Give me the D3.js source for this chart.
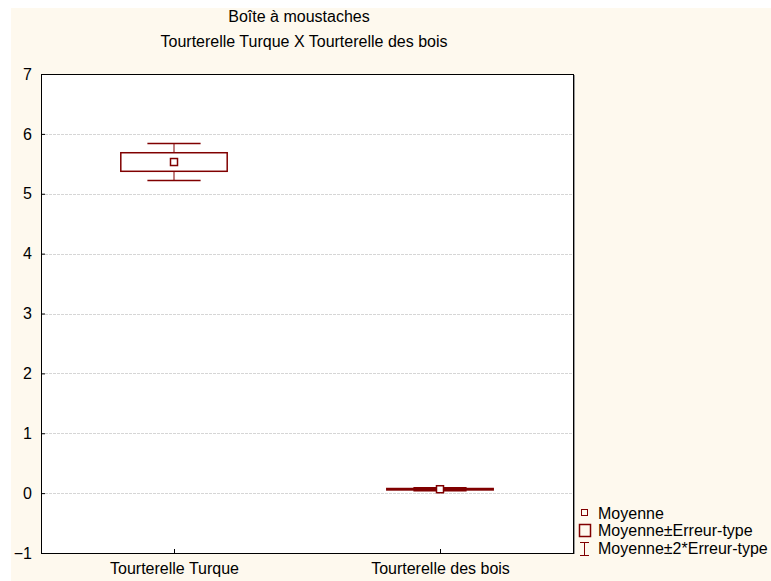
<!DOCTYPE html>
<html>
<head>
<meta charset="utf-8">
<script src="https://cdn.jsdelivr.net/npm/d3@7"></script>
<style>
  body { margin: 0; background: #fff; }
  text { font-family: "Liberation Sans", Arial, sans-serif; fill: #000; }
</style>
</head>
<body>
<div id="chart"></div>
<script>
// data
const categories = ["Tourterelle Turque", "Tourterelle des bois"];
const means = [5.53, 0.065];
const stdErrs = [0.155, 0.012];
const yTicks = [-1, 0, 1, 2, 3, 4, 5, 6, 7];
const titleLines = ["Boîte à moustaches", "Tourterelle Turque X Tourterelle des bois"];
const legendLabels = ["Moyenne", "Moyenne±Erreur-type", "Moyenne±2*Erreur-type"];

const W = 771, H = 581;
const plot = { left: 41, top: 74, right: 573, bottom: 553 };
const red = "#800000";
const fs = "16px";

const svg = d3.select("#chart")
  .append("svg")
  .attr("width", W)
  .attr("height", H);

// cream background
svg.append("rect")
  .attr("x", 11).attr("y", 8)
  .attr("width", W - 11).attr("height", H - 8)
  .attr("fill", "#fef9ee");

svg.append("rect")
  .attr("x", plot.left).attr("y", plot.top)
  .attr("width", plot.right - plot.left).attr("height", plot.bottom - plot.top)
  .attr("fill", "#fff");

const x = d3.scalePoint()
  .domain(categories)
  .range([plot.left, plot.right])
  .padding(0.5);

const y = d3.scaleLinear()
  .domain([-1, 7])
  .range([plot.bottom, plot.top]);

// grid lines
svg.append("g")
  .selectAll("line")
  .data(yTicks.filter(d => d > -1 && d < 7))
  .enter()
  .append("line")
  .attr("x1", plot.left).attr("x2", plot.right)
  .attr("y1", d => Math.round(y(d)) + 0.5)
  .attr("y2", d => Math.round(y(d)) + 0.5)
  .attr("stroke", "#d6d6d6")
  .attr("stroke-dasharray", "3,1");

// axes
const yAxis = svg.append("g")
  .attr("transform", `translate(${plot.left},0)`)
  .call(d3.axisLeft(y).tickValues(yTicks).tickFormat(d3.format("d")).tickSizeInner(-4).tickSizeOuter(0).tickPadding(9));
yAxis.select(".domain").remove();
yAxis.selectAll("text").style("font-size", fs).attr("fill", "#000");
yAxis.selectAll("line").attr("stroke", "#000");

const xAxis = svg.append("g")
  .attr("transform", `translate(0,${plot.bottom})`)
  .call(d3.axisBottom(x).tickSizeInner(-4).tickSizeOuter(0).tickPadding(10));
xAxis.select(".domain").remove();
xAxis.selectAll("text").style("font-size", fs).attr("fill", "#000");
xAxis.selectAll("line").attr("stroke", "#000");

// frame
svg.append("rect")
  .attr("x", plot.left + 0.5).attr("y", plot.top + 0.5)
  .attr("width", plot.right - plot.left).attr("height", plot.bottom - plot.top)
  .attr("fill", "none")
  .attr("stroke", "#000");
svg.append("line")
  .attr("x1", plot.right + 1.5).attr("x2", plot.right + 1.5)
  .attr("y1", plot.top + 1).attr("y2", plot.bottom + 1)
  .attr("stroke", "#999");

// boxes
const step = x.step();
const boxW = step * 0.4;
const capW = step * 0.2;
const data = categories.map((c, i) => ({ cat: c, mean: means[i], se: stdErrs[i] }));

const g = svg.append("g")
  .selectAll("g")
  .data(data)
  .enter()
  .append("g");

g.append("line")
  .attr("x1", d => x(d.cat)).attr("x2", d => x(d.cat))
  .attr("y1", d => y(d.mean + 2 * d.se)).attr("y2", d => y(d.mean + d.se))
  .attr("stroke", red);
g.append("line")
  .attr("x1", d => x(d.cat)).attr("x2", d => x(d.cat))
  .attr("y1", d => y(d.mean - d.se)).attr("y2", d => y(d.mean - 2 * d.se))
  .attr("stroke", red);
g.append("line")
  .attr("x1", d => x(d.cat) - capW / 2).attr("x2", d => x(d.cat) + capW / 2)
  .attr("y1", d => y(d.mean + 2 * d.se)).attr("y2", d => y(d.mean + 2 * d.se))
  .attr("stroke", red).attr("stroke-width", 1.5);
g.append("line")
  .attr("x1", d => x(d.cat) - capW / 2).attr("x2", d => x(d.cat) + capW / 2)
  .attr("y1", d => y(d.mean - 2 * d.se)).attr("y2", d => y(d.mean - 2 * d.se))
  .attr("stroke", red).attr("stroke-width", 1.5);
g.append("rect")
  .attr("x", d => x(d.cat) - boxW / 2)
  .attr("y", d => y(d.mean + d.se))
  .attr("width", boxW)
  .attr("height", d => y(d.mean - d.se) - y(d.mean + d.se))
  .attr("fill", "#fff")
  .attr("stroke", red)
  .attr("stroke-width", 1.5);
g.append("rect")
  .attr("x", d => x(d.cat) - 3.5)
  .attr("y", d => y(d.mean) - 3.5)
  .attr("width", 7).attr("height", 7)
  .attr("fill", "#fff")
  .attr("stroke", red)
  .attr("stroke-width", 1.5);

// title
svg.append("g")
  .selectAll("text")
  .data(titleLines)
  .enter()
  .append("text")
  .attr("x", (d, i) => i === 0 ? 299 : 304)
  .attr("y", (d, i) => 22 + i * 25)
  .attr("text-anchor", "middle")
  .style("font-size", fs)
  .text(d => d);

// legend
const leg = svg.append("g").attr("transform", "translate(579,0)");
const rowY = [519, 536, 554];
leg.append("rect").attr("x", 2.5).attr("y", rowY[0] - 9.5).attr("width", 6).attr("height", 6)
  .attr("fill", "none").attr("stroke", red);
leg.append("rect").attr("x", 0.5).attr("y", rowY[1] - 11.5).attr("width", 11).attr("height", 12)
  .attr("fill", "none").attr("stroke", red).attr("stroke-width", 1.5);
leg.append("path")
  .attr("d", `M1,${rowY[2] - 11.5}H10M5.5,${rowY[2] - 11.5}V${rowY[2] + 1.5}M1,${rowY[2] + 1.5}H10`)
  .attr("fill", "none").attr("stroke", red);
leg.selectAll("text.lab")
  .data(legendLabels)
  .enter()
  .append("text")
  .attr("class", "lab")
  .attr("x", 19)
  .attr("y", (d, i) => rowY[i])
  .style("font-size", fs)
  .text(d => d);
</script>
</body>
</html>
